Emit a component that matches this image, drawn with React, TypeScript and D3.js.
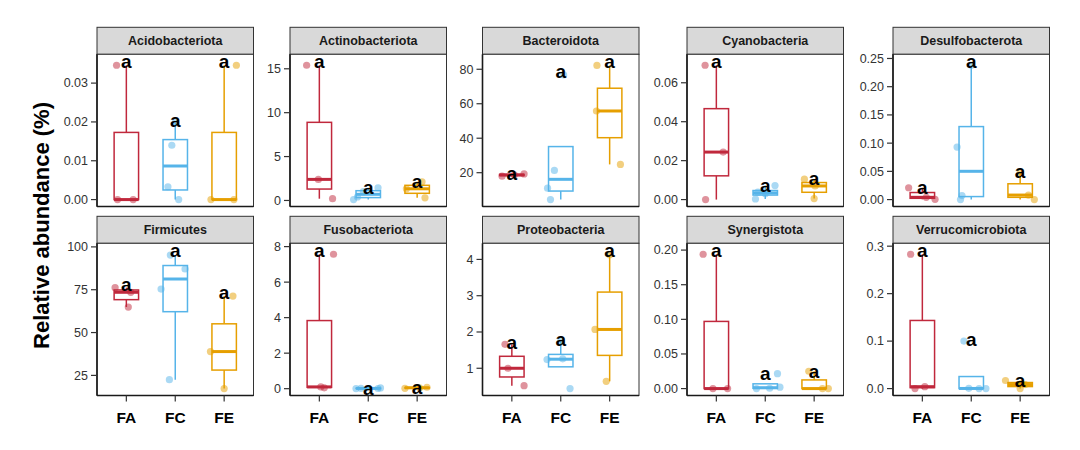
import * as d3 from 'd3';

// ---- data ----
const phyla = [
  'Acidobacteriota', 'Actinobacteriota', 'Bacteroidota', 'Cyanobacteria', 'Desulfobacterota',
  'Firmicutes', 'Fusobacteriota', 'Proteobacteria', 'Synergistota', 'Verrucomicrobiota',
];
const groups = ['FA', 'FC', 'FE'];

// relative abundance (%) per sample, one list per phylum
const faAbundance = [
  [0, 0, 0.0346], [0.2, 2.4, 15.4], [18.0, 18.7, 19.3], [0, 0.0244, 0.069], [0.0005, 0.004, 0.021],
  [64.9, 73.5, 76.2], [0.05, 0.1, 7.57], [0.52, 1.0, 1.66], [0, 0, 0.194], [0, 0.004, 0.283],
];
const fcAbundance = [
  [0, 0.0033, 0.014, 0.0198], [0.1, 0.4, 1.0, 1.45], [4.4, 11.0, 21.3, 76.7], [0.0003, 0.003, 0.0038, 0.0072],
  [0, 0.0071, 0.0931, 0.238], [22.5, 75.4, 87.1, 95.2], [0.005, 0.01, 0.02, 0.04], [0.44, 1.24, 1.26, 1.75],
  [0, 0.0005, 0.002, 0.0215], [0, 0, 0.0005, 0.1],
];
const feAbundance = [
  [0, 0, 0.0346], [0.3, 1.33, 2.12], [24.8, 55.8, 82.2], [0.0005, 0.007, 0.0105], [0, 0.008, 0.048],
  [17.3, 38.9, 71.3], [0.02, 0.05, 0.08], [0.64, 2.07, 4.13], [0, 0, 0.025], [0, 0.0085, 0.017],
];

// horizontal jitter of each sample (category units)
const faJitter = [
  [-0.18, 0.14, -0.2], [0.27, -0.02, -0.26], [-0.2, 0.05, 0.25], [-0.22, 0.14, -0.23], [0.26, 0.08, -0.28],
  [0.04, 0.09, -0.23], [0.1, 0.03, 0.29], [0.25, -0.08, -0.14], [-0.07, 0.23, -0.27], [-0.15, 0.05, -0.24],
];
const fcJitter = [
  [0.07, -0.15, -0.07, 0], [-0.3, -0.22, -0.1, 0.2], [-0.21, -0.27, -0.13, 0.06], [-0.2, 0, -0.15, 0.2],
  [-0.22, -0.19, -0.29, 0], [-0.12, -0.29, 0.2, -0.1], [-0.25, 0.2, -0.15, 0.25], [0.19, -0.28, 0.04, 0],
  [-0.18, 0.09, 0.3, 0.25], [0.16, 0.3, -0.05, -0.15],
];
const feJitter = [
  [-0.27, 0.2, 0.25], [0.16, -0.22, 0.1], [0.22, -0.27, -0.26], [0, 0.02, -0.2], [0.29, 0.17, 0],
  [0, -0.28, 0.18], [-0.25, 0.05, 0.2], [-0.07, -0.3, 0], [0.17, 0.29, -0.11], [0, 0.1, -0.3],
];

const yTickLabels = [
  ['0.00', '0.01', '0.02', '0.03'],
  ['0', '5', '10', '15'],
  ['20', '40', '60', '80'],
  ['0.00', '0.02', '0.04', '0.06'],
  ['0.00', '0.05', '0.10', '0.15', '0.20', '0.25'],
  ['25', '50', '75', '100'],
  ['0', '2', '4', '6', '8'],
  ['1', '2', '3', '4'],
  ['0.00', '0.05', '0.10', '0.15', '0.20'],
  ['0.0', '0.1', '0.2', '0.3'],
];

const sigLetters = [
  ['a', 'a', 'a'], ['a', 'a', 'a'], ['a', 'a', 'a'], ['a', 'a', 'a'], ['a', 'a', 'a'],
  ['a', 'a', 'a'], ['a', 'a', 'a'], ['a', 'a', 'a'], ['a', 'a', 'a'], ['a', 'a', 'a'],
];

// ---- layout / style ----
const COLORS = ['#C0283C', '#56B4E9', '#E69F00'];
const FONT = '"Liberation Sans", Arial, Helvetica, sans-serif';
const panelLefts = [97, 290, 482.5, 687, 893];
const panelTops = [54.3, 243.3];
const panelW = 156.5;
const panelH = 152.2;
const stripH = 27;

function boxStats(values: number[]) {
  const s = [...values].sort(d3.ascending);
  const q1 = d3.quantileSorted(s, 0.25) as number;
  const med = d3.quantileSorted(s, 0.5) as number;
  const q3 = d3.quantileSorted(s, 0.75) as number;
  const iqr = q3 - q1;
  const inside = s.filter(v => v >= q1 - 1.5 * iqr && v <= q3 + 1.5 * iqr);
  return { q1, med, q3, lo: d3.min(inside) as number, hi: d3.max(inside) as number };
}

function Panel({ k }: { k: number }) {
  const col = k % 5;
  const row = Math.floor(k / 5);
  const left = panelLefts[col];
  const top = panelTops[row];

  const series = [faAbundance[k], fcAbundance[k], feAbundance[k]];
  const jitters = [faJitter[k], fcJitter[k], feJitter[k]];
  const letterY = series.map(v => (d3.max(v) as number) * 1.03);

  const lo = d3.min(series.flat()) as number;
  const hi = d3.max(letterY) as number;
  const pad = (hi - lo) * 0.05;
  const y = d3.scaleLinear().domain([lo - pad, hi + pad]).range([panelH, 0]);
  const x = d3.scalePoint<string>().domain(groups).range([0, panelW]).padding(0.6);
  const step = x.step();
  const boxW = step * 0.5;
  const ticks = yTickLabels[k];

  return (
    <g transform={`translate(${left},${top})`}>
      {/* strip */}
      <rect x={0} y={-stripH} width={panelW} height={stripH} fill="#D9D9D9" stroke="#333" strokeWidth={1} />
      <text x={panelW / 2} y={-stripH / 2 + 4.5} textAnchor="middle" fontFamily={FONT}
        fontSize={12.5} fontWeight="bold" fill="#1A1A1A">{phyla[k]}</text>

      <rect x={0} y={0} width={panelW} height={panelH} fill="#fff" />

      {/* boxes */}
      {groups.map((g, i) => {
        const st = boxStats(series[i]);
        const cx = x(g) as number;
        return (
          <g key={g} stroke={COLORS[i]} fill="none">
            <line x1={cx} x2={cx} y1={y(st.q3)} y2={y(st.hi)} strokeWidth={1.5} />
            <line x1={cx} x2={cx} y1={y(st.q1)} y2={y(st.lo)} strokeWidth={1.5} />
            <rect x={cx - boxW / 2} y={y(st.q3)} width={boxW} height={Math.max(0, y(st.q1) - y(st.q3))}
              fill="#fff" strokeWidth={1.5} />
            <line x1={cx - boxW / 2} x2={cx + boxW / 2} y1={y(st.med)} y2={y(st.med)} strokeWidth={3} />
          </g>
        );
      })}

      {/* jittered samples */}
      {groups.map((g, i) =>
        series[i].map((v, j) => (
          <circle key={`${g}-${j}`} cx={(x(g) as number) + jitters[i][j] * step} cy={y(v)} r={3.6}
            fill={COLORS[i]} fillOpacity={0.5} />
        ))
      )}

      {/* significance letters */}
      {groups.map((g, i) => (
        <text key={`l-${g}`} x={x(g)} y={y(letterY[i]) + 6.8} textAnchor="middle" fontFamily={FONT}
          fontSize={19} fontWeight="bold" fill="#000">{sigLetters[k][i]}</text>
      ))}

      {/* frame */}
      <rect x={0} y={0} width={panelW} height={panelH} fill="none" stroke="#333" strokeWidth={1} />
      <line x1={0} x2={0} y1={0} y2={panelH} stroke="#1A1A1A" strokeWidth={1.6} />
      <line x1={0} x2={panelW} y1={panelH} y2={panelH} stroke="#1A1A1A" strokeWidth={1.6} />

      {/* y axis */}
      {ticks.map(t => (
        <g key={t} transform={`translate(0,${y(+t)})`}>
          <line x1={-6} x2={0} stroke="#333" strokeWidth={1.2} />
          <text x={-9} dy="0.35em" textAnchor="end" fontFamily={FONT} fontSize={12.5} fill="#333">{t}</text>
        </g>
      ))}

      {/* x axis only on bottom row */}
      {row === 1 && groups.map(g => (
        <g key={`x-${g}`} transform={`translate(${x(g)},${panelH})`}>
          <line y1={0} y2={6} stroke="#333" strokeWidth={1.2} />
          <text y={27} textAnchor="middle" fontFamily={FONT} fontSize={15.5} fontWeight="bold" fill="#000">{g}</text>
        </g>
      ))}
    </g>
  );
}

export default function App() {
  return (
    <svg width={1080} height={450} style={{ position: 'absolute', left: 0, top: 0, background: '#fff' }}>
      <rect width={1080} height={450} fill="#fff" />
      {phyla.map((_, k) => <Panel key={k} k={k} />)}
      <text transform="translate(48.5,225.5) rotate(-90)" textAnchor="middle" fontFamily={FONT}
        fontSize={22} fontWeight="bold" fill="#000">Relative abundance (%)</text>
    </svg>
  );
}
